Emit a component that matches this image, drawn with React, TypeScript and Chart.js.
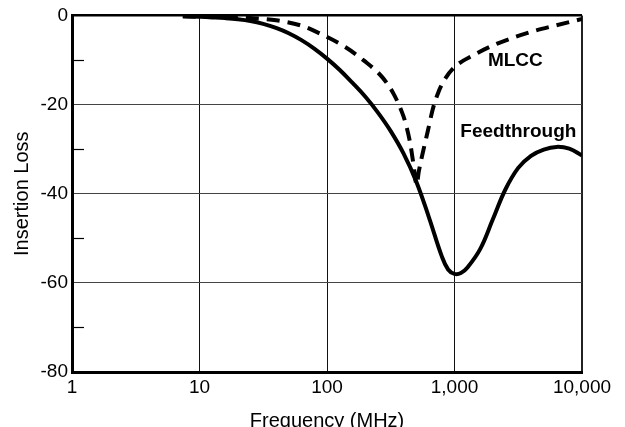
import React, { useEffect, useRef } from "react";
import { Chart, registerables } from "chart.js";

Chart.register(...registerables);

// Feedthrough capacitor (solid)
const feedFreq = [7.4, 10, 12.6, 15.8, 20, 25.1, 31.6, 39.8, 50.1, 63.1, 79.4, 100, 126, 158, 200, 251, 316, 398, 501, 631, 794, 891, 1000, 1122, 1259, 1585, 1995, 2512, 3162, 3981, 5012, 6310, 7943, 10000];
const feedLoss = [-0.2, -0.33, -0.45, -0.6, -0.85, -1.25, -1.9, -2.8, -4.0, -5.55, -7.45, -9.7, -12.25, -15.1, -18.25, -21.8, -25.95, -30.95, -37.25, -45.35, -54.0, -57.0, -58.0, -57.8, -56.6, -52.5, -45.8, -39.0, -34.2, -31.5, -30.1, -29.5, -29.9, -31.4];

// MLCC (dashed)
const mlccFreq = [7.4, 10, 15.8, 25, 40, 63, 88.5, 139, 194, 270, 333, 387, 411, 450, 476, 505, 525, 562, 617, 676, 741, 832, 1000, 1413, 2138, 3981, 6310, 10000];
const mlccLoss = [-0.2, -0.3, -0.4, -0.6, -1.1, -2.3, -4.1, -7.1, -10.1, -13.8, -17.6, -21.7, -23.9, -28.8, -33.3, -38, -35, -31, -26, -21, -17.5, -14.5, -11.6, -8.9, -6.4, -3.7, -2.2, -0.8];

const xTickValues = [1, 10, 100, 1000, 10000];
const xTickLabels = ["1", "10", "100", "1,000", "10,000"];
const yMajorTicks = [-80, -60, -40, -20, 0];
const yMinorTicks = [-70, -50, -30, -10];

const labelTexts = ["MLCC", "Feedthrough"];
const labelFreqs = [3000, 3170];
const labelLosses = [-10.1, -26.2];

const FONT = "'Liberation Sans', Arial, Helvetica, sans-serif";

const extrasPlugin = {
  id: "extras",
  afterDatasetsDraw(chart: any) {
    const { ctx, chartArea, scales } = chart;
    const xs = scales.x;
    const ys = scales.y;
    ctx.save();
    // inward minor ticks on the y axis
    ctx.strokeStyle = "#000";
    ctx.lineWidth = 1.2;
    yMinorTicks.forEach((v) => {
      const y = Math.round(ys.getPixelForValue(v)) + 0.5;
      ctx.beginPath();
      ctx.moveTo(chartArea.left, y);
      ctx.lineTo(chartArea.left + 12, y);
      ctx.stroke();
    });
    // curve labels
    ctx.fillStyle = "#000";
    ctx.font = `bold 19px ${FONT}`;
    ctx.textAlign = "center";
    ctx.textBaseline = "middle";
    labelTexts.forEach((t, i) => {
      ctx.fillText(t, xs.getPixelForValue(labelFreqs[i]), ys.getPixelForValue(labelLosses[i]));
    });
    ctx.restore();
  },
};

export default function App() {
  const ref = useRef<HTMLCanvasElement>(null);

  useEffect(() => {
    if (!ref.current) return;
    const chart = new Chart(ref.current, {
      type: "line",
      data: {
        datasets: [
          {
            label: "Feedthrough",
            data: feedFreq.map((f, i) => ({ x: f, y: feedLoss[i] })),
            borderColor: "#000",
            borderWidth: 4,
            pointRadius: 0,
            fill: false,
            tension: 0.4,
          },
          {
            label: "MLCC",
            data: mlccFreq.map((f, i) => ({ x: f, y: mlccLoss[i] })),
            borderColor: "#000",
            borderWidth: 4,
            borderDash: [13, 8],
            pointRadius: 0,
            fill: false,
            cubicInterpolationMode: "monotone",
          },
        ],
      },
      options: {
        animation: false,
        responsive: true,
        maintainAspectRatio: false,
        layout: { padding: { top: 15, right: 43, left: 0, bottom: 0 } },
        plugins: {
          legend: { display: false },
          tooltip: { enabled: false },
        },
        scales: {
          x: {
            type: "logarithmic",
            min: 1,
            max: 10000,
            afterBuildTicks: (scale: any) => {
              scale.ticks = xTickValues.map((v) => ({ value: v }));
            },
            afterFit: (scale: any) => {
              scale.height = 55;
            },
            ticks: {
              autoSkip: false,
              maxRotation: 0,
              padding: 4,
              color: "#000",
              font: { family: FONT, size: 19 },
              callback: (value: any) => {
                const i = xTickValues.indexOf(Number(value));
                return i >= 0 ? xTickLabels[i] : "";
              },
            },
            grid: {
              drawTicks: false,
              color: (ctx: any) => (ctx.tick && ctx.tick.value === 10000 ? "#222" : "#111"),
              lineWidth: (ctx: any) => (ctx.tick && ctx.tick.value === 10000 ? 2 : 1),
            },
            border: { display: true, color: "#000", width: 3 },
            title: {
              display: true,
              text: "Frequency (MHz)",
              color: "#000",
              font: { family: FONT, size: 20 },
              padding: { top: 0, bottom: -6 },
            },
          },
          y: {
            type: "linear",
            min: -80,
            max: 0,
            afterFit: (scale: any) => {
              scale.width = 72;
            },
            ticks: {
              stepSize: 10,
              padding: 4,
              color: "#000",
              font: { family: FONT, size: 19 },
              callback: (value: any) => (yMajorTicks.includes(Number(value)) ? String(value) : ""),
            },
            grid: {
              drawTicks: false,
              color: (ctx: any) => {
                const v = ctx.tick ? ctx.tick.value : 1;
                if (v === 0) return "#000";
                return yMajorTicks.includes(v) ? "#444" : "rgba(0,0,0,0)";
              },
              lineWidth: (ctx: any) => {
                const v = ctx.tick ? ctx.tick.value : 1;
                if (v === 0) return 2.5;
                return yMajorTicks.includes(v) ? 1 : 0;
              },
            },
            border: { display: true, color: "#000", width: 3 },
            title: {
              display: true,
              text: "Insertion Loss",
              color: "#000",
              font: { family: FONT, size: 20 },
              padding: { top: 10, bottom: 0 },
            },
          },
        },
      },
      plugins: [extrasPlugin],
    } as any);
    return () => chart.destroy();
  }, []);

  return (
    <div style={{ position: "fixed", left: 0, top: 0, width: 625, height: 427, background: "#fff" }}>
      <canvas ref={ref} />
    </div>
  );
}
